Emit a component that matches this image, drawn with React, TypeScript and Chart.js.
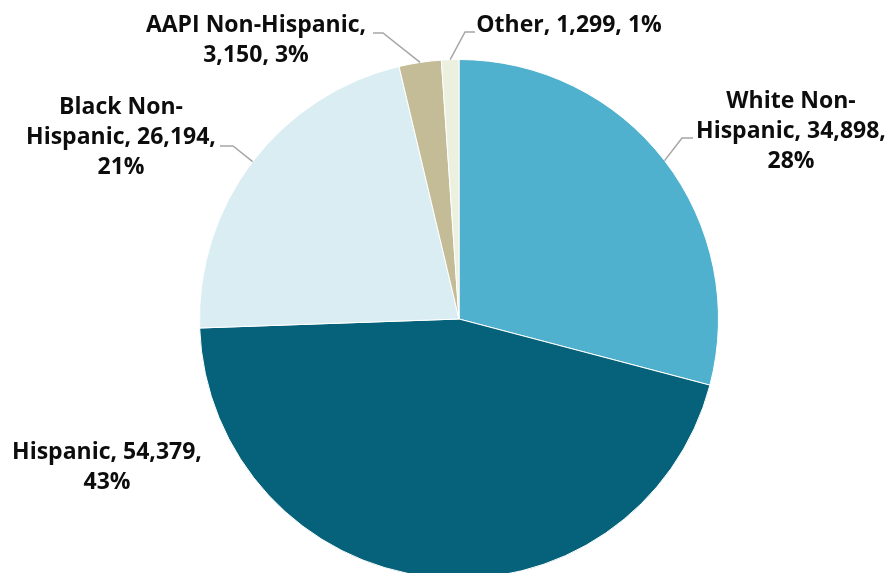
import React, { useEffect, useRef } from "react";
import { Chart, registerables } from "chart.js";

Chart.register(...registerables);

const categories = ["White Non-Hispanic", "Hispanic", "Black Non-Hispanic", "AAPI Non-Hispanic", "Other"];
const values = [34898, 54379, 26194, 3150, 1299];
const percents = [28, 43, 21, 3, 1];
const colors = ["#4FB1CD", "#05627A", "#DAEDF3", "#C4BC97", "#ECF0DE"];

// label layout, relative to pie centre (px)
type LabelLayout = { wrap: number; tx: number; ty: number; elbow?: [number, number]; end?: [number, number] };
const labelLayout: LabelLayout[] = [
  { wrap: 200, tx: 332, ty: -218, elbow: [223, -181], end: [234, -181] },
  { wrap: 200, tx: -352, ty: 133 },
  { wrap: 200, tx: -338, ty: -212, elbow: [-226, -173], end: [-239, -173] },
  { wrap: 240, tx: -203, ty: -294, elbow: [-76, -286], end: [-86, -286] },
  { wrap: 300, tx: 110, ty: -294, elbow: [6, -287], end: [16, -287] },
];
const LINE_H = 30;
const FONT = "bold 23px 'Open Sans'";

function wrapText(ctx: CanvasRenderingContext2D, text: string, maxW: number): string[] {
  const tokens = text.match(/[^\s-]+-?\s*|\s+/g) || [text];
  const lines: string[] = [];
  let cur = "";
  for (const t of tokens) {
    const test = cur + t;
    if (cur && ctx.measureText(test.trimEnd()).width > maxW) {
      lines.push(cur.trimEnd());
      cur = t;
    } else cur = test;
  }
  if (cur) lines.push(cur.trimEnd());
  return lines;
}

const labelPlugin = {
  id: "pieLabels",
  afterDraw(chart: any) {
    const ctx: CanvasRenderingContext2D = chart.ctx;
    const meta = chart.getDatasetMeta(0);
    ctx.save();
    ctx.font = FONT;
    ctx.textAlign = "center";
    ctx.textBaseline = "middle";
    meta.data.forEach((arc: any, i: number) => {
      const L = labelLayout[i];
      const cx = arc.x, cy = arc.y, r = arc.outerRadius;
      if (L.elbow && L.end) {
        const mid = (arc.startAngle + arc.endAngle) / 2;
        ctx.beginPath();
        ctx.strokeStyle = "#A6A6A6";
        ctx.lineWidth = 1.5;
        ctx.moveTo(cx + Math.cos(mid) * r, cy + Math.sin(mid) * r);
        ctx.lineTo(cx + L.elbow[0], cy + L.elbow[1]);
        ctx.lineTo(cx + L.end[0], cy + L.end[1]);
        ctx.stroke();
      }
      const text = `${categories[i]}, ${values[i].toLocaleString("en-US")}, ${percents[i]}%`;
      const lines = wrapText(ctx, text, L.wrap);
      ctx.fillStyle = "#0D0D0D";
      lines.forEach((ln, k) => {
        ctx.fillText(ln, cx + L.tx, cy + L.ty + k * LINE_H);
      });
    });
    ctx.restore();
  },
};

export default function App() {
  const ref = useRef<HTMLCanvasElement | null>(null);
  useEffect(() => {
    if (!ref.current) return;
    const chart = new Chart(ref.current, {
      type: "pie",
      data: {
        labels: categories,
        datasets: [
          {
            data: values,
            backgroundColor: colors,
            borderColor: "#FFFFFF",
            borderWidth: 1,
          },
        ],
      },
      options: {
        responsive: false,
        animation: false,
        events: [],
        layout: { padding: { left: 199, right: 171, top: 59, bottom: 61 } },
        plugins: { legend: { display: false }, tooltip: { enabled: false } },
      },
      plugins: [labelPlugin],
    });
    return () => chart.destroy();
  }, []);
  return (
    <div style={{ position: "fixed", left: 0, top: 0, width: 890, height: 640, background: "#fff" }}>
      <canvas ref={ref} width={890} height={640} style={{ display: "block" }} />
    </div>
  );
}
